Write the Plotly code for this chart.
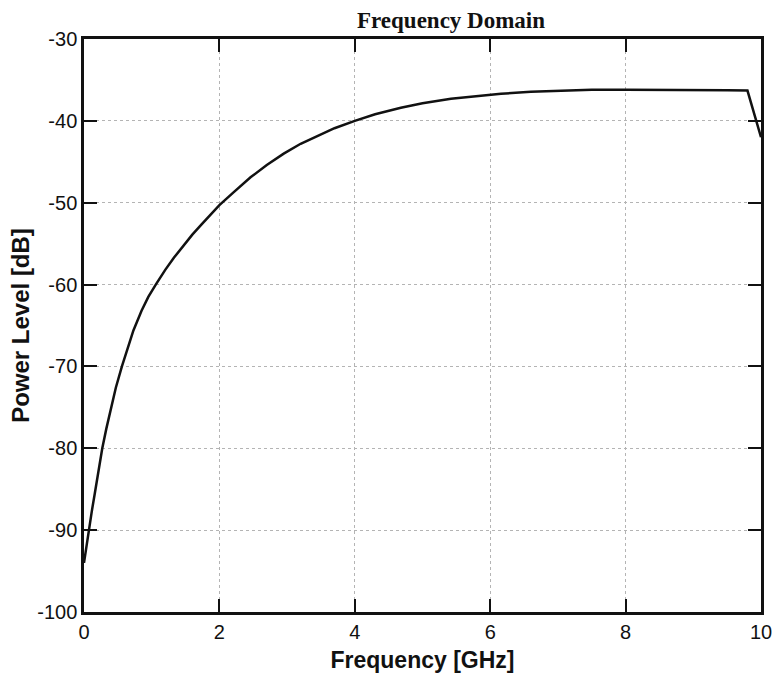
import plotly.graph_objects as go

# Frequency response samples (GHz, dB)
freq_ghz = [0.0, 0.035, 0.07, 0.115, 0.16, 0.215, 0.27, 0.33, 0.39, 0.47, 0.56,
            0.64, 0.73, 0.85, 0.95, 1.06, 1.2, 1.33, 1.47, 1.6, 1.73, 1.86, 2.0,
            2.2, 2.46, 2.7, 2.95, 3.2, 3.45, 3.7, 4.0, 4.3, 4.68, 5.0, 5.42,
            5.8, 6.16, 6.6, 7.0, 7.5, 8.0, 8.5, 9.0, 9.5, 9.8, 10.0]
power_db = [-94.0, -92.0, -90.0, -87.7, -85.5, -82.6, -80.0, -77.6, -75.5, -72.6, -70.0,
            -67.8, -65.6, -63.2, -61.5, -60.0, -58.2, -56.7, -55.2, -53.9, -52.7, -51.5, -50.3,
            -48.8, -46.9, -45.4, -44.0, -42.8, -41.8, -40.9, -40.0, -39.2, -38.4, -37.85, -37.3,
            -36.95, -36.7, -36.45, -36.3, -36.2, -36.2, -36.2, -36.2, -36.25, -36.3, -42.0]

x_ticks = [0, 2, 4, 6, 8, 10]
x_labels = ["0", "2", "4", "6", "8", "10"]
y_ticks = [-100, -90, -80, -70, -60, -50, -40, -30]
y_labels = ["-100", "-90", "-80", "-70", "-60", "-50", "-40", "-30"]

fig = go.Figure()
fig.add_trace(go.Scatter(
    x=freq_ghz, y=power_db, mode="lines",
    line=dict(color="#111111", width=2.5),
    showlegend=False, hoverinfo="skip",
))

axis_common = dict(
    showline=True, linecolor="#111111", linewidth=2.5, mirror="ticks",
    ticks="inside", ticklen=13, tickwidth=2, tickcolor="#111111",
    showgrid=True, gridcolor="#b4b4b4", gridwidth=1, griddash="dot",
    zeroline=False, automargin=False,
    tickfont=dict(family="Liberation Sans, Arial, sans-serif", size=20, color="#111111"),
)

fig.update_xaxes(
    range=[0, 10], tickvals=x_ticks, ticktext=x_labels,
    title=dict(text="<b>Frequency [GHz]</b>", standoff=11,
               font=dict(family="Liberation Sans, Arial, sans-serif", size=23, color="#111111")),
    **axis_common,
)
fig.update_yaxes(
    range=[-100, -30], tickvals=y_ticks, ticktext=y_labels,
    title=dict(text="<b>Power Level [dB]</b>", standoff=1,
               font=dict(family="Liberation Sans, Arial, sans-serif", size=24, color="#111111")),
    **axis_common,
)

fig.update_layout(
    width=778, height=677,
    margin=dict(l=84, r=17, t=39, b=65),
    paper_bgcolor="white", plot_bgcolor="white",
    annotations=[dict(
        text="<b>Frequency Domain</b>", x=(451 - 84) / (778 - 84 - 17),
        xref="paper", y=1, yref="paper",
        showarrow=False, yanchor="bottom", yshift=4,
        font=dict(family="Liberation Serif, Times New Roman, serif", size=23, color="#111111"),
    )],
)

fig.write_html("out.html")
